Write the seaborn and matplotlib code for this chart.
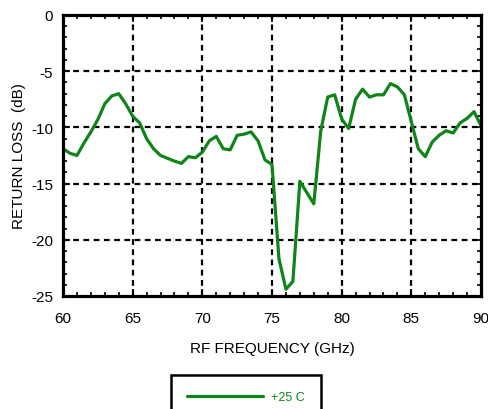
import matplotlib
matplotlib.use("Agg")
import matplotlib.pyplot as plt
import seaborn as sns
import pandas as pd
from matplotlib.ticker import MultipleLocator

freq_ghz = [60.0, 60.5, 61.0, 61.5, 62.0, 62.5, 63.0, 63.5, 64.0, 64.5, 65.0, 65.5,
            66.0, 66.5, 67.0, 67.5, 68.0, 68.5, 69.0, 69.5, 70.0, 70.5, 71.0, 71.5,
            72.0, 72.5, 73.0, 73.5, 74.0, 74.5, 75.0, 75.5, 76.0, 76.5, 77.0, 77.5,
            78.0, 78.5, 79.0, 79.5, 80.0, 80.5, 81.0, 81.5, 82.0, 82.5, 83.0, 83.5,
            84.0, 84.5, 85.0, 85.5, 86.0, 86.5, 87.0, 87.5, 88.0, 88.5, 89.0, 89.5, 90.0]
return_loss_db = [-11.9, -12.3, -12.5, -11.4, -10.4, -9.3, -7.9, -7.2, -7.0, -7.9, -9.0, -9.6,
                  -11.0, -11.9, -12.5, -12.75, -13.0, -13.2, -12.6, -12.7, -12.2, -11.2, -10.8, -11.9,
                  -12.0, -10.7, -10.6, -10.4, -11.2, -12.9, -13.3, -21.7, -24.4, -23.7, -14.8, -15.8,
                  -16.8, -10.3, -7.3, -7.1, -9.25, -10.1, -7.5, -6.6, -7.3, -7.1, -7.1, -6.1,
                  -6.4, -7.1, -9.5, -11.9, -12.6, -11.3, -10.7, -10.3, -10.5, -9.6, -9.2, -8.6, -9.85]
series_label = "+25 C"

x_ticks = [60, 65, 70, 75, 80, 85, 90]
y_ticks = [0, -5, -10, -15, -20, -25]

df = pd.DataFrame({"freq": freq_ghz, "rl": return_loss_db, "series": series_label})

sns.set_style("white")
plt.rcParams["font.family"] = ["Liberation Sans", "DejaVu Sans"]
plt.rcParams["axes.unicode_minus"] = False
plt.rcParams["text.color"] = "black"
plt.rcParams["axes.labelcolor"] = "black"
plt.rcParams["xtick.color"] = "black"
plt.rcParams["ytick.color"] = "black"

fig = plt.figure(figsize=(4.88, 4.10), dpi=100)
ax = fig.add_axes([63 / 488, 1 - 297 / 410, (481 - 63) / 488, (297 - 16) / 410])

green = "#0f8419"
sns.lineplot(data=df, x="freq", y="rl", hue="series", palette=[green],
             linewidth=2.3, ax=ax, legend=True)

ax.set_xlim(60, 90)
ax.set_ylim(-25, 0)
ax.set_xticks(x_ticks)
ax.set_yticks(y_ticks)
ax.xaxis.set_minor_locator(MultipleLocator(1))
ax.yaxis.set_minor_locator(MultipleLocator(1))
ax.tick_params(which="both", direction="in", top=True, right=True, bottom=True, left=True,
               colors="black", labelsize=11, width=1.2)
ax.tick_params(which="major", length=5)
ax.tick_params(which="minor", length=3)
ax.tick_params(axis="x", which="major", pad=11)
ax.tick_params(axis="y", which="major", pad=7)

for s in ax.spines.values():
    s.set_linewidth(2.3)
    s.set_color("black")
    s.set_zorder(5)

for xv in x_ticks[1:-1]:
    ax.axvline(xv, color="black", lw=1.6, ls=(0, (2.6, 2.0)), zorder=1)
for yv in y_ticks[1:-1]:
    ax.axhline(yv, color="black", lw=1.6, ls=(0, (2.6, 2.0)), zorder=1)

ax.set_xlabel("RF FREQUENCY (GHz)", fontsize=11, labelpad=11)
ax.set_ylabel("RETURN LOSS  (dB)", fontsize=11, labelpad=4)

h, l = ax.get_legend_handles_labels()
ax.get_legend().remove()
leg = fig.legend(h, l, loc="upper center", bbox_to_anchor=(246 / 488, 1 - 376 / 410),
                 fontsize=9, frameon=True, fancybox=False, edgecolor="black", framealpha=1,
                 borderpad=1.28, handlelength=6.1, handletextpad=0.64, borderaxespad=0)
leg.get_frame().set_linewidth(1.8)
leg.get_frame().set_edgecolor("black")
for t in leg.get_texts():
    t.set_color(green)
for ln in leg.get_lines():
    ln.set_linewidth(2.3)

fig.savefig("out.png", dpi=100)
